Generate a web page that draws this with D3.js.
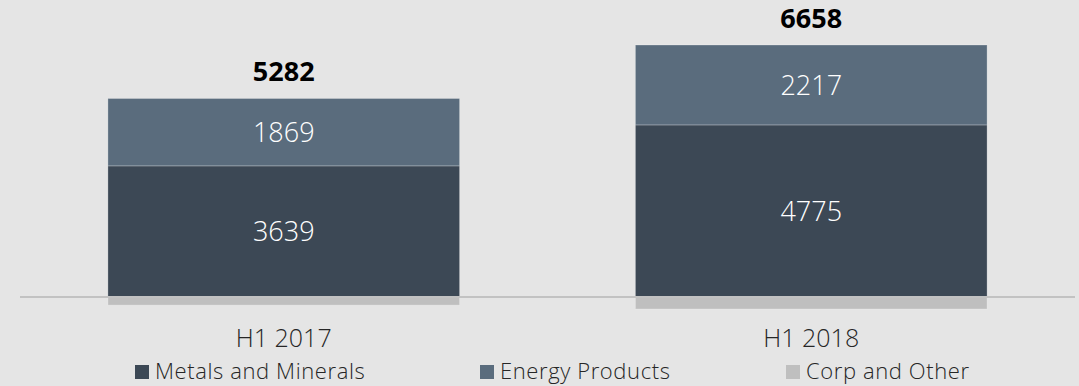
<!DOCTYPE html>
<html>
<head>
<meta charset="utf-8">
<script src="https://cdn.jsdelivr.net/npm/d3@7"></script>
<style>
  html, body { margin: 0; padding: 0; background: #e5e5e5; }
  svg { display: block; font-family: "Open Sans", "Noto Sans", sans-serif; }
</style>
</head>
<body>
<svg id="chart"></svg>
<script>
// Chart data
const categories = ['H1 2017', 'H1 2018'];
const seriesNames = ['Metals and Minerals', 'Energy Products', 'Corp and Other'];
const metals = [3639, 4775];
const energy = [1869, 2217];
const corp = [-226, -334];
const totals = [5282, 6658];

const colors = ['#3c4855', '#5a6c7d', '#bfbfbf'];

const width = 1079, height = 386;
const svg = d3.select('#chart').attr('width', width).attr('height', height);

// build rows for the stack
const rows = categories.map((c, i) => ({
  cat: c,
  'Metals and Minerals': metals[i],
  'Energy Products': energy[i],
  'Corp and Other': corp[i]
}));

const stacked = d3.stack()
  .keys(seriesNames)
  .offset(d3.stackOffsetDiverging)(rows);

const x = d3.scaleBand()
  .domain(categories)
  .range([20, 1075])
  .paddingInner(1 / 3)
  .paddingOuter(1 / 6);

const y = d3.scaleLinear()
  .domain([0, 7000])
  .range([297, 297 - 7000 * 0.03604]);

// segments
svg.append('g')
  .selectAll('g')
  .data(stacked)
  .join('g')
  .attr('fill', (d, i) => colors[i])
  .selectAll('rect')
  .data(d => d)
  .join('rect')
  .attr('x', d => x(d.data.cat))
  .attr('width', x.bandwidth())
  .attr('y', d => y(Math.max(d[0], d[1])))
  .attr('height', d => Math.abs(y(d[0]) - y(d[1])))
  .attr('stroke', 'rgba(255,255,255,0.25)')
  .attr('stroke-width', 1);

// baseline
svg.append('line')
  .attr('x1', 20).attr('x2', 1075)
  .attr('y1', y(0)).attr('y2', y(0))
  .attr('stroke', '#c2c2c2')
  .attr('stroke-width', 2);

// segment labels (first two series only)
stacked.slice(0, 2).forEach(s => {
  svg.append('g')
    .selectAll('text')
    .data(s)
    .join('text')
    .attr('x', d => x(d.data.cat) + x.bandwidth() / 2)
    .attr('y', d => (y(d[0]) + y(d[1])) / 2)
    .attr('dy', '0.36em')
    .attr('text-anchor', 'middle')
    .attr('fill', '#ffffff')
    .attr('font-size', 27)
    .attr('font-weight', 300)
    .text(d => d[1] - d[0]);
});

// totals on top
svg.append('g')
  .selectAll('text')
  .data(categories)
  .join('text')
  .attr('x', d => x(d) + x.bandwidth() / 2)
  .attr('y', (d, i) => y(metals[i] + energy[i]) - 17)
  .attr('text-anchor', 'middle')
  .attr('fill', '#000')
  .attr('font-size', 27)
  .attr('font-weight', 700)
  .text((d, i) => totals[i]);

// category labels
svg.append('g')
  .selectAll('text')
  .data(categories)
  .join('text')
  .attr('x', d => x(d) + x.bandwidth() / 2)
  .attr('y', 347)
  .attr('text-anchor', 'middle')
  .attr('fill', '#262626')
  .attr('font-size', 25)
  .attr('font-weight', 300)
  .text(d => d);

// legend
const legendX = [135, 480, 786];
const legend = svg.append('g')
  .selectAll('g')
  .data(seriesNames)
  .join('g')
  .attr('transform', (d, i) => `translate(${legendX[i]},365)`);

legend.append('rect')
  .attr('width', 14).attr('height', 14)
  .attr('fill', (d, i) => colors[i]);

legend.append('text')
  .attr('x', 20)
  .attr('y', 14)
  .attr('fill', '#262626')
  .attr('font-size', 22)
  .attr('font-weight', 300)
  .attr('letter-spacing', 0.6)
  .text(d => d);
</script>
</body>
</html>
